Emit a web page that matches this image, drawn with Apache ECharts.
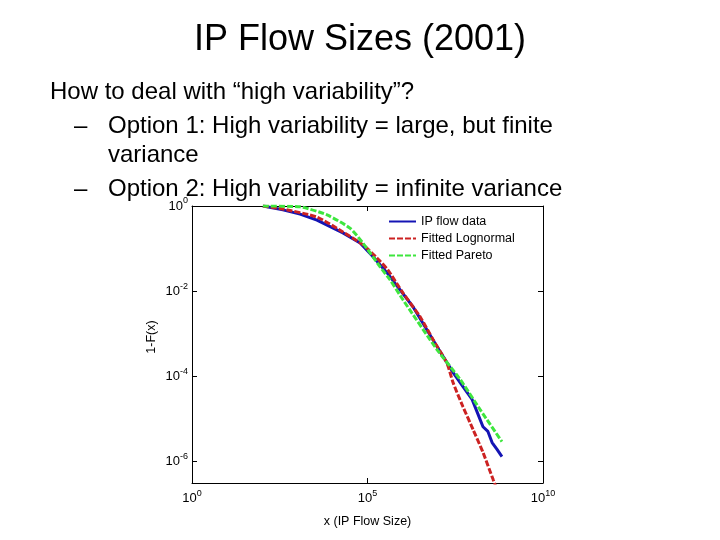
<!DOCTYPE html>
<html lang="en">
<head>
    <meta charset="utf-8"/>
    <title>IP Flow Sizes (2001)</title>
    <script src="https://cdn.jsdelivr.net/npm/echarts@6/dist/echarts.min.js"></script>
    <style>
        html, body { margin: 0; padding: 0; background: #fff; }
        #main { width: 720px; height: 540px; }
    </style>
</head>
<body>
    <div id="main"></div>
    <script>
        // values are log10 exponents
        const flowLogX = [2.02, 2.59, 3.08, 3.56, 4.30, 4.79, 5.16, 5.56, 6.30, 7.07, 7.44, 7.72, 7.98, 8.15, 8.29, 8.43, 8.55, 8.69, 8.83];
        const flowLogY = [0, -0.09, -0.19, -0.33, -0.63, -0.87, -1.19, -1.57, -2.37, -3.42, -3.91, -4.24, -4.54, -4.89, -5.18, -5.29, -5.55, -5.71, -5.88];
        const lognLogX = [2.02, 2.59, 3.56, 4.30, 4.87, 5.27, 5.58, 6.01, 6.50, 6.87, 7.26, 7.44, 7.72, 8.01, 8.29, 8.58, 8.77];
        const lognLogY = [0, -0.07, -0.26, -0.61, -0.91, -1.22, -1.50, -2.04, -2.60, -3.14, -3.68, -4.15, -4.71, -5.25, -5.78, -6.42, -6.82];
        const paretoLogX = [2.02, 3.08, 3.85, 4.50, 4.87, 5.36, 5.64, 6.01, 6.98, 7.64, 8.21, 8.83];
        const paretoLogY = [0, -0.02, -0.21, -0.52, -0.87, -1.43, -1.73, -2.20, -3.37, -4.07, -4.78, -5.53];
        const seriesNames = ['IP flow data', 'Fitted Lognormal', 'Fitted Pareto'];
        const xTicks = [0, 5, 10];
        const yTicks = [-6, -4, -2, 0];

        const font = 'Liberation Sans, Arial, sans-serif';
        const pairs = (xs, ys) => xs.map((x, i) => [x, ys[i]]);
        const powLabel = v => '{b|10}{s|' + v + '}';
        const richPow = {
            b: { fontSize: 13, fontFamily: font, color: '#000' },
            s: { fontSize: 9, fontFamily: font, color: '#000', padding: [0, 0, 10, 0] }
        };
        const axisLine = { show: true, onZero: false, lineStyle: { color: '#000', width: 1 } };
        const tick = { inside: true, length: 5, lineStyle: { color: '#000' } };

        const chart = echarts.init(document.getElementById('main'));
        const option = {
            backgroundColor: '#fff',
            animation: false,
            grid: { left: 192, top: 206, right: 177, bottom: 57 },
            graphic: [
                { type: 'text', left: 'center', top: 22, style: { text: 'IP Flow Sizes (2001)', font: '36px ' + font, fill: '#000' } },
                { type: 'text', x: 50, y: 92, style: { text: 'How to deal with \u201chigh variability\u201d?', font: '24px ' + font, fill: '#000', verticalAlign: 'middle' } },
                { type: 'text', x: 74, y: 126, style: { text: '\u2013', font: '24px ' + font, fill: '#000', verticalAlign: 'middle' } },
                { type: 'text', x: 108, y: 126, style: { text: 'Option 1: High variability = large, but finite', font: '24px ' + font, fill: '#000', verticalAlign: 'middle' } },
                { type: 'text', x: 108, y: 155, style: { text: 'variance', font: '24px ' + font, fill: '#000', verticalAlign: 'middle' } },
                { type: 'text', x: 74, y: 189, style: { text: '\u2013', font: '24px ' + font, fill: '#000', verticalAlign: 'middle' } },
                { type: 'text', x: 108, y: 189, style: { text: 'Option 2: High variability = infinite variance', font: '24px ' + font, fill: '#000', verticalAlign: 'middle' } },
                { type: 'text', x: 152, y: 337, rotation: Math.PI / 2, style: { text: '1-F(x)', font: '12.5px ' + font, fill: '#000', align: 'center', verticalAlign: 'middle' } }
            ],
            legend: {
                orient: 'vertical',
                left: 388,
                top: 215,
                itemWidth: 27,
                itemHeight: 12,
                itemGap: 4,
                padding: 0,
                itemStyle: { opacity: 0 },
                textStyle: { fontSize: 12.5, fontFamily: font, color: '#000' },
                data: seriesNames
            },
            xAxis: [{
                type: 'value', min: 0, max: 10, interval: 5,
                name: 'x (IP Flow Size)', nameLocation: 'middle', nameGap: 32,
                nameTextStyle: { fontSize: 12.5, fontFamily: font, color: '#000' },
                axisLine: axisLine,
                axisTick: tick,
                axisLabel: { formatter: powLabel, rich: richPow, margin: 6, customValues: xTicks },
                splitLine: { show: false }
            }, {
                type: 'value', position: 'top', min: 0, max: 10, interval: 5,
                axisLine: axisLine,
                axisTick: tick,
                axisLabel: { show: false },
                splitLine: { show: false }
            }],
            yAxis: [{
                type: 'value', min: -6.5, max: 0,
                axisLine: axisLine,
                axisTick: Object.assign({ customValues: yTicks }, tick),
                axisLabel: { formatter: powLabel, rich: richPow, margin: 4, customValues: yTicks },
                splitLine: { show: false }
            }, {
                type: 'value', position: 'right', min: -6.5, max: 0,
                axisLine: axisLine,
                axisTick: Object.assign({ customValues: yTicks }, tick),
                axisLabel: { show: false },
                splitLine: { show: false }
            }],
            series: [{
                name: seriesNames[0], type: 'line', showSymbol: false, symbol: 'none',
                data: pairs(flowLogX, flowLogY),
                itemStyle: { color: '#1414b4' },
                lineStyle: { color: '#1414b4', width: 3 }
            }, {
                name: seriesNames[1], type: 'line', showSymbol: false, symbol: 'none', smooth: 0.2,
                data: pairs(lognLogX, lognLogY),
                itemStyle: { color: '#cc2222' },
                lineStyle: { color: '#cc2222', width: 3, type: [6, 2] }
            }, {
                name: seriesNames[2], type: 'line', showSymbol: false, symbol: 'none', smooth: 0.2,
                data: pairs(paretoLogX, paretoLogY),
                itemStyle: { color: '#3ee63e' },
                lineStyle: { color: '#3ee63e', width: 3, type: [6, 2] }
            }]
        };
        chart.setOption(option);
    </script>
</body>
</html>
